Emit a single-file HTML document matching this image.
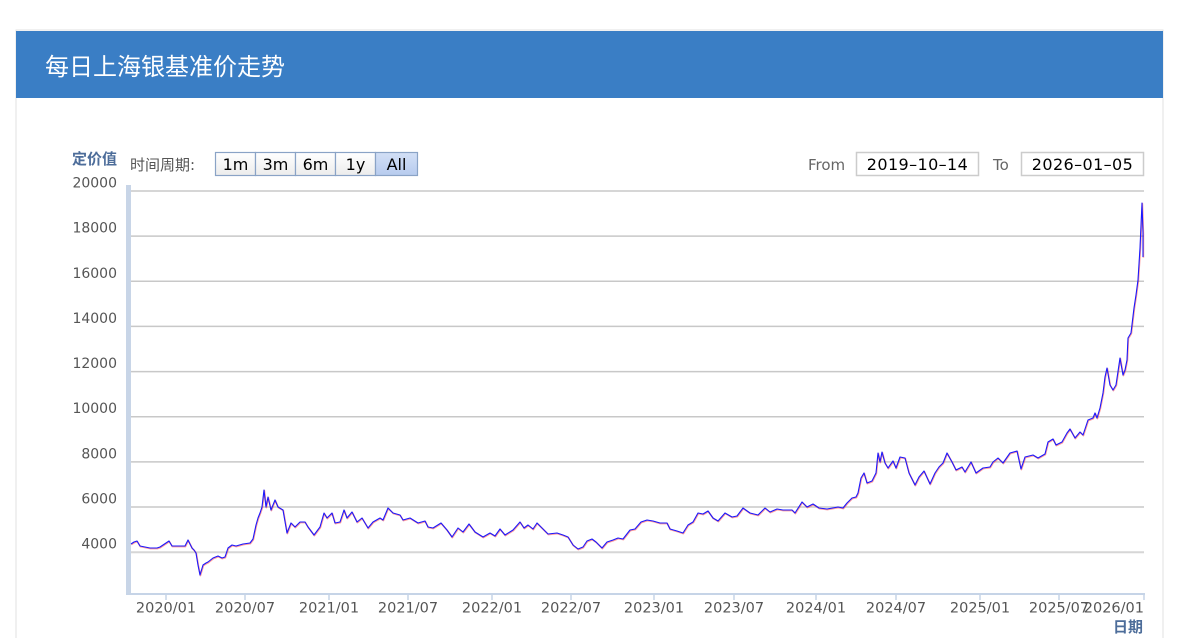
<!DOCTYPE html>
<html>
<head>
<meta charset="utf-8">
<style>
html,body{margin:0;padding:0;background:#fff;width:1190px;height:638px;overflow:hidden;}
svg{display:block;}
</style>
</head>
<body>
<svg width="1190" height="638" viewBox="0 0 1190 638" xmlns="http://www.w3.org/2000/svg">
  <!-- panel -->
  <rect x="16" y="30" width="1147" height="620" fill="#fff" stroke="#e2e2e2" stroke-width="1"/>
  <rect x="16" y="31" width="1147" height="67" fill="#3a7ec5"/>
  <text x="45" y="75" font-size="24" fill="#ffffff" font-family="'Liberation Sans','Noto Sans CJK SC',sans-serif">每日上海银基准价走势</text>

  <!-- axis title -->
  <text x="117" y="164" text-anchor="end" font-size="15" font-weight="bold" fill="#4d6d9a" font-family="'Liberation Sans','Noto Sans CJK SC',sans-serif">定价值</text>
  <text x="130" y="170" font-size="15" fill="#555" font-family="'DejaVu Sans','Noto Sans CJK SC',sans-serif">时间周期:</text>

  <!-- buttons -->
  <defs>
    <linearGradient id="bg1" x1="0" y1="0" x2="0" y2="1">
      <stop offset="0" stop-color="#ffffff"/><stop offset="1" stop-color="#ececec"/>
    </linearGradient>
    <linearGradient id="bg2" x1="0" y1="0" x2="0" y2="1">
      <stop offset="0" stop-color="#d3e0f6"/><stop offset="1" stop-color="#b7cbee"/>
    </linearGradient>
  </defs>
  <g stroke="#8aa3c6" stroke-width="1.2">
    <rect x="215.5" y="152.5" width="40" height="23" fill="url(#bg1)"/>
    <rect x="255.5" y="152.5" width="40" height="23" fill="url(#bg1)"/>
    <rect x="295.5" y="152.5" width="40" height="23" fill="url(#bg1)"/>
    <rect x="335.5" y="152.5" width="40" height="23" fill="url(#bg1)"/>
    <rect x="375.5" y="152.5" width="42" height="23" fill="url(#bg2)"/>
  </g>
  <g font-size="16" fill="#000" font-family="'DejaVu Sans',sans-serif" text-anchor="middle">
    <text x="235.5" y="170">1m</text>
    <text x="275.5" y="170">3m</text>
    <text x="315.5" y="170">6m</text>
    <text x="355.5" y="170">1y</text>
    <text x="396.5" y="170">All</text>
  </g>

  <!-- From / To -->
  <text x="808" y="170" font-size="15" fill="#666" font-family="'DejaVu Sans',sans-serif">From</text>
  <rect x="856.5" y="152.5" width="122" height="23" fill="#fff" stroke="#cccccc" stroke-width="1.5"/>
  <text x="917.5" y="170" text-anchor="middle" font-size="16" letter-spacing="0.4" fill="#000" font-family="'DejaVu Sans',sans-serif">2019–10–14</text>
  <text x="993" y="170" font-size="15" fill="#666" font-family="'DejaVu Sans',sans-serif">To</text>
  <rect x="1021.5" y="152.5" width="122" height="23" fill="#fff" stroke="#cccccc" stroke-width="1.5"/>
  <text x="1082.5" y="170" text-anchor="middle" font-size="16" letter-spacing="0.4" fill="#000" font-family="'DejaVu Sans',sans-serif">2026–01–05</text>

  <!-- gridlines -->
  <g stroke="#c8c8c8" stroke-width="1.5">
    <line x1="131" y1="191" x2="1144" y2="191"/>
    <line x1="131" y1="236.1" x2="1144" y2="236.1"/>
    <line x1="131" y1="281.3" x2="1144" y2="281.3"/>
    <line x1="131" y1="326.4" x2="1144" y2="326.4"/>
    <line x1="131" y1="371.6" x2="1144" y2="371.6"/>
    <line x1="131" y1="416.7" x2="1144" y2="416.7"/>
    <line x1="131" y1="461.9" x2="1144" y2="461.9"/>
    <line x1="131" y1="507" x2="1144" y2="507"/>
  </g>
  <line x1="131" y1="552.2" x2="1144" y2="552.2" stroke="#d6d6d6" stroke-width="2"/>

  <!-- y labels -->
  <g font-size="14" fill="#555" font-family="'DejaVu Sans',sans-serif" text-anchor="end">
    <text x="117" y="187.5">20000</text>
    <text x="117" y="232.6">18000</text>
    <text x="117" y="277.8">16000</text>
    <text x="117" y="322.9">14000</text>
    <text x="117" y="368.1">12000</text>
    <text x="117" y="413.2">10000</text>
    <text x="117" y="458.4">8000</text>
    <text x="117" y="503.5">6000</text>
    <text x="117" y="548.7">4000</text>
  </g>

  <!-- axes -->
  <rect x="126" y="185" width="5" height="409" fill="#c8d5e7"/>
  <line x1="126" y1="594" x2="1145" y2="594" stroke="#c6d4e7" stroke-width="2"/>
  <g stroke="#c6d4e7" stroke-width="1.5">
    <line x1="166" y1="594" x2="166" y2="600"/>
    <line x1="245" y1="594" x2="245" y2="600"/>
    <line x1="329" y1="594" x2="329" y2="600"/>
    <line x1="408" y1="594" x2="408" y2="600"/>
    <line x1="492" y1="594" x2="492" y2="600"/>
    <line x1="571" y1="594" x2="571" y2="600"/>
    <line x1="654" y1="594" x2="654" y2="600"/>
    <line x1="734" y1="594" x2="734" y2="600"/>
    <line x1="816" y1="594" x2="816" y2="600"/>
    <line x1="896" y1="594" x2="896" y2="600"/>
    <line x1="980" y1="594" x2="980" y2="600"/>
    <line x1="1059" y1="594" x2="1059" y2="600"/>
    <line x1="1144" y1="594" x2="1144" y2="600"/>
  </g>

  <!-- x labels -->
  <g font-size="14.5" fill="#555" font-family="'DejaVu Sans',sans-serif" text-anchor="middle">
    <text x="166" y="612.5">2020/01</text>
    <text x="245" y="612.5">2020/07</text>
    <text x="329" y="612.5">2021/01</text>
    <text x="408" y="612.5">2021/07</text>
    <text x="492" y="612.5">2022/01</text>
    <text x="571" y="612.5">2022/07</text>
    <text x="654" y="612.5">2023/01</text>
    <text x="734" y="612.5">2023/07</text>
    <text x="816" y="612.5">2024/01</text>
    <text x="896" y="612.5">2024/07</text>
    <text x="980" y="612.5">2025/01</text>
    <text x="1059" y="612.5">2025/07</text>
    <text x="1144" y="612.5" text-anchor="end">2026/01</text>
  </g>
  <text x="1143" y="632" text-anchor="end" font-size="15" font-weight="bold" fill="#4d6d9a" font-family="'Liberation Sans','Noto Sans CJK SC',sans-serif">日期</text>

  <!-- series -->
  <g fill="none" stroke-linejoin="round">
    <polyline stroke="#ff2020" stroke-opacity="0.45" stroke-width="1.6" transform="translate(0.4,0.6)" points="131,544 134,542 137,541 140,546 145,547 150,548 157,548 160,547 163,545 166,543 169,541 172,546 178,546 185,546 188,540 190,544 192,548 194,550 196,553 198,565 200,575 203,565 206,563 208,562 213,558 218,556 222,558 225,557 228,548 232,545 236,546 243,544 250,543 253,539 256,525 258,518 260,513 262,507 264,490 266,507 268,497 271,510 275,500 278,507 283,510 287,533 291,523 295,527 300,522 305,522 308,527 314,535 320,527 324,513 327,518 332,513 335,523 340,522 344,510 347,518 352,512 357,522 362,518 368,528 373,522 380,518 383,520 388,508 393,513 400,515 403,520 410,518 418,523 425,521 428,527 433,528 441,523 447,530 452,537 458,528 463,532 469,524 475,532 483,537 490,533 495,536 500,529 505,535 513,530 520,522 524,528 528,525 533,529 537,523 543,529 548,534 557,533 563,535 568,537 573,545 578,549 583,547 587,541 592,539 596,542 602,548 607,542 613,540 618,538 623,539 630,530 635,529 641,522 647,520 653,521 660,523 667,523 670,529 677,531 683,533 688,525 693,522 698,513 703,514 708,511 713,518 718,521 725,513 732,517 737,516 743,508 750,513 758,515 765,508 770,512 777,509 783,510 792,510 795,513 802,502 807,507 813,504 819,508 827,509 838,507 843,508 847,503 852,498 856,497 858,493 861,478 864,473 867,483 872,481 876,473 878,453 880,462 882,452 885,463 888,468 893,461 896,468 900,457 905,458 909,473 915,485 919,477 924,471 930,484 935,473 939,467 943,463 947,453 952,462 956,470 962,467 965,472 971,462 976,473 983,468 990,467 993,462 998,458 1003,463 1010,453 1017,451 1021,469 1025,457 1033,455 1038,458 1045,454 1048,442 1053,439 1056,445 1062,442 1067,433 1070,429 1075,438 1080,432 1083,435 1088,420 1093,418 1095,413 1097,418 1100,408 1103,393 1105,377 1107,368 1110,385 1113,390 1116,385 1120,358 1123,375 1125,370 1127,360 1128,338 1131,333 1134,308 1136,295 1138,280 1140,248 1142,203 1143,233 1143,257"/>
    <polyline stroke="#1a1aff" stroke-width="1.1" points="131,544 134,542 137,541 140,546 145,547 150,548 157,548 160,547 163,545 166,543 169,541 172,546 178,546 185,546 188,540 190,544 192,548 194,550 196,553 198,565 200,575 203,565 206,563 208,562 213,558 218,556 222,558 225,557 228,548 232,545 236,546 243,544 250,543 253,539 256,525 258,518 260,513 262,507 264,490 266,507 268,497 271,510 275,500 278,507 283,510 287,533 291,523 295,527 300,522 305,522 308,527 314,535 320,527 324,513 327,518 332,513 335,523 340,522 344,510 347,518 352,512 357,522 362,518 368,528 373,522 380,518 383,520 388,508 393,513 400,515 403,520 410,518 418,523 425,521 428,527 433,528 441,523 447,530 452,537 458,528 463,532 469,524 475,532 483,537 490,533 495,536 500,529 505,535 513,530 520,522 524,528 528,525 533,529 537,523 543,529 548,534 557,533 563,535 568,537 573,545 578,549 583,547 587,541 592,539 596,542 602,548 607,542 613,540 618,538 623,539 630,530 635,529 641,522 647,520 653,521 660,523 667,523 670,529 677,531 683,533 688,525 693,522 698,513 703,514 708,511 713,518 718,521 725,513 732,517 737,516 743,508 750,513 758,515 765,508 770,512 777,509 783,510 792,510 795,513 802,502 807,507 813,504 819,508 827,509 838,507 843,508 847,503 852,498 856,497 858,493 861,478 864,473 867,483 872,481 876,473 878,453 880,462 882,452 885,463 888,468 893,461 896,468 900,457 905,458 909,473 915,485 919,477 924,471 930,484 935,473 939,467 943,463 947,453 952,462 956,470 962,467 965,472 971,462 976,473 983,468 990,467 993,462 998,458 1003,463 1010,453 1017,451 1021,469 1025,457 1033,455 1038,458 1045,454 1048,442 1053,439 1056,445 1062,442 1067,433 1070,429 1075,438 1080,432 1083,435 1088,420 1093,418 1095,413 1097,418 1100,408 1103,393 1105,377 1107,368 1110,385 1113,390 1116,385 1120,358 1123,375 1125,370 1127,360 1128,338 1131,333 1134,308 1136,295 1138,280 1140,248 1142,203 1143,233 1143,257"/>
  </g>
</svg>
</body>
</html>
